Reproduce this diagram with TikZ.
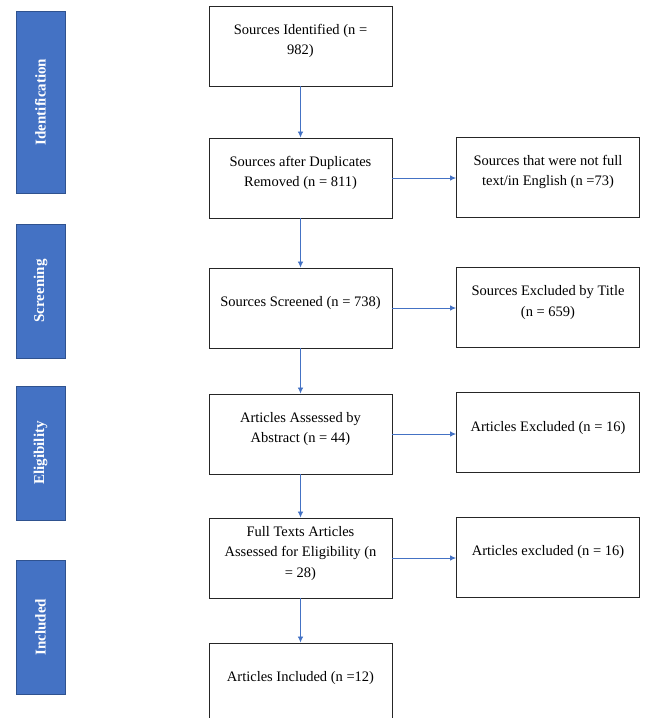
\documentclass[tikz,border=0pt]{standalone}
\usepackage{fontspec}
\setmainfont{Liberation Serif}
\usetikzlibrary{arrows.meta}
\definecolor{prismablue}{RGB}{68,114,196}
\definecolor{prismaedge}{RGB}{47,82,143}
\tikzset{
  stagebox/.style={draw=black!85, line width=0.9pt, minimum width=183, minimum height=80,
    align=center, inner sep=0pt, text depth=13pt, font=\fontsize{14.5}{20.5}\selectfont},
  phasebox/.style={draw=prismaedge, fill=prismablue, line width=0.9pt, minimum height=49,
    inner sep=0pt, rotate=90, text=white, font=\fontsize{15}{17}\selectfont\bfseries},
  flow/.style={draw=prismablue, line width=0.8pt, -{Latex[length=6pt,width=5.5pt]}}
}

\begin{document}
\begin{tikzpicture}[x=1pt,y=-1pt]
\useasboundingbox[fill=white] (0,0) rectangle (646,718);
\node[phasebox, minimum width=182] (ident) at (40.5,102) {Identification};
\node[phasebox, minimum width=134] (screen) at (40.5,291) {Screening};
\node[phasebox, minimum width=134] (elig) at (40.5,453) {Eligibility};
\node[phasebox, minimum width=134] (incl) at (40.5,627) {Included};
\node[stagebox] (found) at (300.5,46) {Sources Identified (n =\\982)};
\node[stagebox] (dedup) at (300.5,178) {Sources after Duplicates\\Removed (n = 811)};
\node[stagebox] (screened) at (300.5,308) {Sources Screened (n = 738)};
\node[stagebox] (abstract) at (300.5,434) {Articles Assessed by\\Abstract (n = 44)};
\node[stagebox] (fulltext) at (300.5,558) {Full Texts Articles\\Assessed for Eligibility (n\\= 28)};
\node[stagebox] (included) at (300.5,683) {Articles Included (n =12)};
\node[stagebox] (notfull) at (548,177) {Sources that were not full\\text/in English (n =73)};
\node[stagebox] (bytitle) at (548,307.5) {Sources Excluded by Title\\(n = 659)};
\node[stagebox] (absexcl) at (548,432.5) {Articles Excluded (n = 16)};
\node[stagebox] (ftexcl) at (548,557) {Articles excluded (n = 16)};
\draw[flow] (found) -- (dedup);
\draw[flow] (dedup) -- (screened);
\draw[flow] (screened) -- (abstract);
\draw[flow] (abstract) -- (fulltext);
\draw[flow] (fulltext) -- (included);
\draw[flow] (dedup.east) -- (dedup.east -| notfull.west);
\draw[flow] (screened.east) -- (screened.east -| bytitle.west);
\draw[flow] (abstract.east) -- (abstract.east -| absexcl.west);
\draw[flow] (fulltext.east) -- (fulltext.east -| ftexcl.west);
\end{tikzpicture}
\end{document}
